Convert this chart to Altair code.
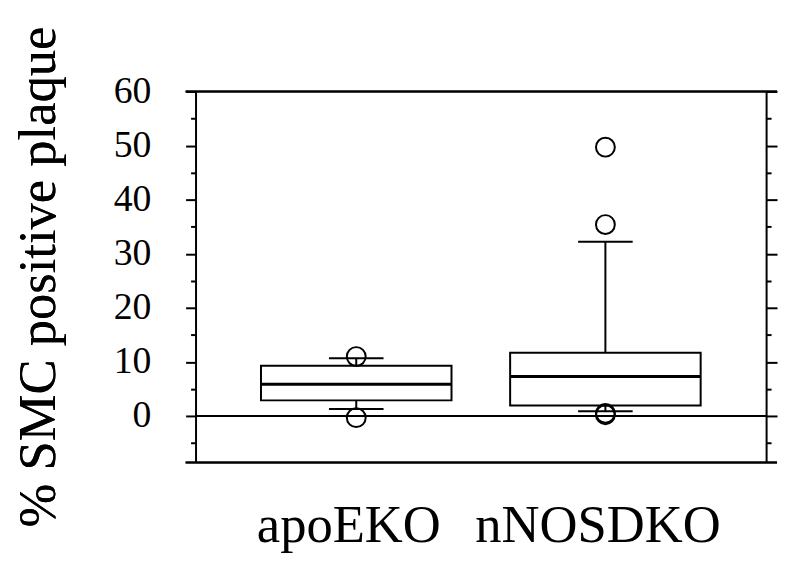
import altair as alt
import pandas as pd

# ---- data ----
categories = ["apoEKO", "nNOSDKO"]
q1 = [2.9, 1.95]
medians = [5.9, 7.3]
q3 = [9.3, 11.7]
whisker_low = [1.3, 0.9]
whisker_high = [10.7, 32.2]
outlier_group = ["apoEKO", "apoEKO", "nNOSDKO", "nNOSDKO", "nNOSDKO", "nNOSDKO"]
outlier_value = [11.0, -0.3, 49.7, 35.4, 0.5, 0.25]
y_tick_values = [-5, 0, 5, 10, 15, 20, 25, 30, 35, 40, 45, 50, 55, 60]
y_domain = [-8.6, 60]
y_title = "% SMC positive plaque"

box_df = pd.DataFrame({"group": categories, "q1": q1, "median": medians, "q3": q3,
                       "lo": whisker_low, "hi": whisker_high})
out_df = pd.DataFrame({"group": outlier_group, "value": outlier_value})

W, H = 575, 374
FONT = "Liberation Serif, Times New Roman, Times, serif"
major = "datum.value % 10 === 0"

yscale = alt.Scale(domain=y_domain, nice=False, zero=False)
xscale = alt.Scale(type="point", domain=categories, padding=0.645)

x_axis = alt.Axis(
    title=None, ticks=False, tickSize=0, domain=False, grid=False,
    labelFont=FONT, labelFontSize=53, labelColor="black", labelPadding=38,
    labelAngle=0, labelOffset=-8, labelLimit=0,
)
X = alt.X("group:N", scale=xscale, axis=x_axis)

left_axis = alt.Axis(
    orient="left", values=y_tick_values, grid=False, title=None,
    domain=True, domainColor="black", domainWidth=2,
    ticks=True, tickColor="black", tickWidth=2,
    tickSize={"condition": {"test": major, "value": 10}, "value": 5},
    labelExpr=f"{major} ? datum.label : ''", labelOverlap=False,
    labelFont=FONT, labelFontSize=38, labelColor="black", labelPadding=35,
)
right_axis = alt.Axis(
    orient="right", values=y_tick_values, grid=False, labels=False, title=None,
    domain=True, domainColor="black", domainWidth=2,
    ticks=True, tickColor="black", tickWidth=2,
    tickSize={"condition": {"test": major, "value": 11}, "value": 5},
)

base = alt.Chart(box_df)

box = base.mark_bar(size=192, fill="white", stroke="black", strokeWidth=2, opacity=1).encode(
    x=X, y=alt.Y("q1:Q", scale=yscale, axis=left_axis), y2="q3:Q")
median_line = base.mark_tick(size=192, thickness=3, color="black", opacity=1).encode(
    x=X, y=alt.Y("median:Q", scale=yscale, axis=None))
whisker_up = base.mark_rule(color="black", strokeWidth=2).encode(
    x=X, y=alt.Y("q3:Q", scale=yscale, axis=None), y2="hi:Q")
whisker_dn = base.mark_rule(color="black", strokeWidth=2).encode(
    x=X, y=alt.Y("q1:Q", scale=yscale, axis=None), y2="lo:Q")
cap_up = base.mark_tick(size=55, thickness=2, color="black", opacity=1).encode(
    x=X, y=alt.Y("hi:Q", scale=yscale, axis=None))
cap_dn = base.mark_tick(size=55, thickness=2, color="black", opacity=1).encode(
    x=X, y=alt.Y("lo:Q", scale=yscale, axis=None))
outliers = alt.Chart(out_df).mark_point(
    shape="circle", size=361, filled=False, stroke="black", strokeWidth=2, opacity=1
).encode(x=X, y=alt.Y("value:Q", scale=yscale, axis=None))

zero_line = alt.Chart(box_df).mark_rule(color="black", strokeWidth=2).encode(
    y=alt.YDatum(0, type="quantitative", scale=yscale, axis=None))
top_line = alt.Chart(box_df).mark_rule(color="black", strokeWidth=2).encode(
    y=alt.YDatum(y_domain[1], type="quantitative", scale=yscale, axis=right_axis),
    x=alt.value(-10), x2=alt.value(W + 11))
bottom_line = alt.Chart(box_df).mark_rule(color="black", strokeWidth=2).encode(
    y=alt.YDatum(y_domain[0], type="quantitative", scale=yscale, axis=None),
    x=alt.value(-10), x2=alt.value(W + 11))

title_text = alt.Chart(box_df).mark_text(
    text=y_title, font=FONT, fontSize=53, fontWeight="normal", color="black",
    angle=270, align="center", baseline="alphabetic",
).encode(x=alt.value(-142), y=alt.value(H / 2))

chart = alt.layer(
    box, zero_line, median_line, whisker_up, whisker_dn, cap_up, cap_dn,
    outliers, top_line, bottom_line, title_text,
).resolve_scale(y="shared").resolve_axis(y="independent").properties(
    width=W, height=H,
    autosize=alt.AutoSizeParams(type="none"),
    padding={"left": 189, "top": 82, "right": 13, "bottom": 90},
    background="white",
).configure_view(stroke=None).configure(font=FONT).configure_axis(
    labelFont=FONT
)

chart.save("out.html", embed_options={"renderer": "svg", "actions": False})
